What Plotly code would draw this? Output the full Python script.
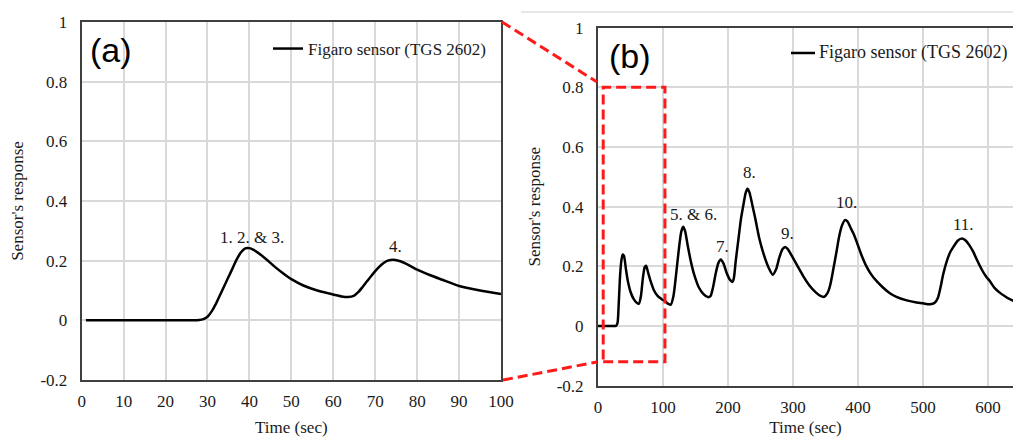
import plotly.graph_objects as go

# Panel (a): first 100 s of the TGS 2602 response
time_a = [1, 4, 7, 10, 13, 16, 19, 22, 25, 27, 28, 29, 30, 31, 32, 33, 34, 35, 36, 37,
          38, 39, 40, 41, 42, 44, 46, 48, 50, 53, 56, 59, 62, 63.5, 65, 66, 67, 68, 69,
          70, 71, 72, 73, 74.4, 76, 78, 80, 83, 86, 90, 95, 100]
resp_a = [0, 0, 0, 0, 0, 0, 0, 0, 0, 0, 0.001, 0.004, 0.012, 0.03, 0.055, 0.085, 0.115,
          0.145, 0.175, 0.205, 0.228, 0.241, 0.242, 0.236, 0.227, 0.205, 0.18, 0.158,
          0.138, 0.116, 0.101, 0.09, 0.08, 0.078, 0.083, 0.095, 0.112, 0.13, 0.148,
          0.165, 0.18, 0.192, 0.2, 0.203, 0.198, 0.185, 0.17, 0.152, 0.136, 0.115, 0.1,
          0.088]

# Panel (b): full run
time_b = [0, 4, 8, 12, 16, 20, 24, 27, 28, 30, 32, 34, 36, 38, 40, 43, 46, 50, 55, 60,
          63, 66, 69, 72, 74, 77, 81, 86, 92, 98, 104, 108, 112, 116, 120, 124, 128,
          131, 134, 138, 143, 148, 155, 162, 169, 173, 177, 181, 185, 189, 193, 198,
          203, 207, 209, 212, 216, 220, 224, 227, 230, 233, 237, 242, 248, 255, 262,
          269, 274, 279, 284, 288, 292, 298, 306, 315, 325, 335, 343, 348, 353, 357,
          362, 367, 371, 375, 380, 384, 388, 393, 398, 405, 413, 420, 428, 438, 449,
          460, 475, 490, 500, 511, 518, 523, 527, 531, 537, 542, 547, 553, 559, 565,
          571, 577, 584, 591, 597, 603, 610, 618, 626, 632, 640]
resp_b = [0, 0, 0, 0, 0, 0, 0, 0, 0.001, 0.01, 0.08, 0.17, 0.22, 0.24, 0.235, 0.19,
          0.15, 0.115, 0.09, 0.077, 0.075, 0.1, 0.16, 0.198, 0.202, 0.18, 0.15, 0.12,
          0.1, 0.09, 0.082, 0.074, 0.072, 0.1, 0.17, 0.25, 0.315, 0.333, 0.318, 0.27,
          0.215, 0.172, 0.13, 0.108, 0.097, 0.1, 0.13, 0.175, 0.21, 0.223, 0.21, 0.178,
          0.155, 0.148, 0.16, 0.22, 0.29, 0.36, 0.41, 0.445, 0.46, 0.448, 0.41, 0.36,
          0.295, 0.24, 0.198, 0.172, 0.19, 0.23, 0.258, 0.265, 0.258, 0.236, 0.205,
          0.17, 0.137, 0.113, 0.1, 0.098, 0.11, 0.135, 0.19, 0.25, 0.3, 0.335, 0.355,
          0.35, 0.332, 0.31, 0.282, 0.24, 0.2, 0.174, 0.152, 0.13, 0.11, 0.097, 0.086,
          0.079, 0.076, 0.073, 0.078, 0.095, 0.13, 0.173, 0.22, 0.248, 0.266, 0.285,
          0.293, 0.288, 0.272, 0.25, 0.217, 0.187, 0.166, 0.15, 0.128, 0.112, 0.1,
          0.092, 0.084]

# Peak labels
labels_a = ["1. 2. & 3.", "4."]
label_x_a = [40.6, 74.8]
label_y_a = [0.279, 0.248]
labels_b = ["5. & 6.", "7.", "8.", "9.", "10.", "11."]
label_x_b = [146.7, 191.3, 232.8, 291.8, 382.6, 562.9]
label_y_b = [0.374, 0.268, 0.516, 0.309, 0.413, 0.341]

y_ticks = [-0.2, 0, 0.2, 0.4, 0.6, 0.8, 1]
y_tick_text = ["-0.2", "0", "0.2", "0.4", "0.6", "0.8", "1"]
series_name = "Figaro sensor (TGS 2602)"

W, H = 1013, 437
SERIF = "Liberation Serif"
SANS = "Liberation Sans"
INK = "#1a1a1a"
FRAME = "#404040"
GRID = "#d9d9d9"
RED = "#ff1a1a"


def px(x):
    return x / W


def py(y):
    return 1 - y / H


fig = go.Figure()
fig.add_trace(go.Scatter(x=time_a, y=resp_a, mode="lines", name=series_name,
                         line=dict(color="black", width=2.5, shape="spline", smoothing=0.6),
                         xaxis="x", yaxis="y", legend="legend"))
fig.add_trace(go.Scatter(x=time_b, y=resp_b, mode="lines", name=series_name,
                         line=dict(color="black", width=2.5, shape="spline", smoothing=0.7),
                         xaxis="x2", yaxis="y2", showlegend=False))

fig.update_layout(
    template="none",
    width=W, height=H,
    margin=dict(l=0, r=0, t=0, b=0, pad=0),
    paper_bgcolor="white", plot_bgcolor="white",
    font=dict(family=SERIF, size=17, color=INK),
    xaxis=dict(domain=[px(81.7), px(501)], range=[0, 100],
               tickvals=list(range(0, 101, 10)), mirror=True, anchor="y"),
    yaxis=dict(domain=[py(380), py(22)], range=[-0.2, 1],
               tickvals=y_ticks, ticktext=y_tick_text, mirror=True, anchor="x"),
    xaxis2=dict(domain=[px(598), 1], range=[0, (W - 598) / 0.65],
                tickvals=list(range(0, 601, 100)), mirror=True, anchor="y2"),
    yaxis2=dict(domain=[py(385.7), py(27.7)], range=[-0.2, 1],
                tickvals=y_ticks, ticktext=y_tick_text, mirror=False, anchor="x2"),
    legend=dict(x=px(268), y=py(49), xanchor="left", yanchor="middle",
                bgcolor="rgba(0,0,0,0)", font=dict(family=SERIF, size=17, color=INK),
                itemwidth=30),
    showlegend=True,
)

fig.update_xaxes(showgrid=True, gridcolor=GRID, gridwidth=1.5, zeroline=False,
                 showline=True, linecolor=FRAME, linewidth=2, ticks="", automargin=False,
                 ticklabelstandoff=5,
                 tickfont=dict(family=SERIF, size=17, color=INK),
                 title=dict(text="Time (sec)", standoff=12,
                            font=dict(family=SERIF, size=17, color=INK)))
fig.update_yaxes(showgrid=True, gridcolor=GRID, gridwidth=1.5, zeroline=False,
                 showline=True, linecolor=FRAME, linewidth=2, ticks="", automargin=False,
                 ticklabelstandoff=9,
                 tickfont=dict(family=SERIF, size=17, color=INK),
                 title=dict(text="Sensor's response", standoff=12,
                            font=dict(family=SERIF, size=17, color=INK)))

# Key for panel (b): sample line plus series name
fig.add_shape(type="line", xref="paper", yref="paper", x0=px(791), x1=px(815),
              y0=py(53), y1=py(53), line=dict(color="black", width=2.5))
fig.add_annotation(text=series_name, xref="paper", yref="paper", x=px(817), y=py(53),
                   xanchor="left", yanchor="middle", showarrow=False,
                   font=dict(family=SERIF, size=18, color=INK))

# Panel letters
fig.add_annotation(text="(a)", xref="paper", yref="paper", x=px(88), y=py(50),
                   xanchor="left", yanchor="middle", showarrow=False,
                   font=dict(family=SANS, size=34, color="black"))
fig.add_annotation(text="(b)", xref="paper", yref="paper", x=px(607), y=py(56),
                   xanchor="left", yanchor="middle", showarrow=False,
                   font=dict(family=SANS, size=34, color="black"))

for t, x, y in zip(labels_a, label_x_a, label_y_a):
    fig.add_annotation(text=t, x=x, y=y, xref="x", yref="y", showarrow=False,
                       font=dict(family=SERIF, size=17, color=INK))
for t, x, y in zip(labels_b, label_x_b, label_y_b):
    fig.add_annotation(text=t, x=x, y=y, xref="x2", yref="y2", showarrow=False,
                       font=dict(family=SERIF, size=17, color=INK))

dash = "10px,5px"
# Zoom window on panel (b)
fig.add_shape(type="rect", xref="x2", yref="y2", x0=8, x1=103, y0=-0.12, y1=0.8,
              line=dict(color=RED, width=3, dash=dash))
# Connectors from panel (a) corners to the zoom window
fig.add_shape(type="line", xref="paper", yref="paper", x0=px(502), y0=py(22),
              x1=px(597), y1=py(82), line=dict(color=RED, width=3, dash=dash))
fig.add_shape(type="line", xref="paper", yref="paper", x0=px(503), y0=py(380),
              x1=px(597), y1=py(362), line=dict(color=RED, width=3, dash=dash))
# Thin rule above panel (b)
fig.add_shape(type="line", xref="paper", yref="paper", x0=px(521), y0=py(12),
              x1=1, y1=py(12), line=dict(color="#e0e0e0", width=1.5))

fig.write_html("out.html")
